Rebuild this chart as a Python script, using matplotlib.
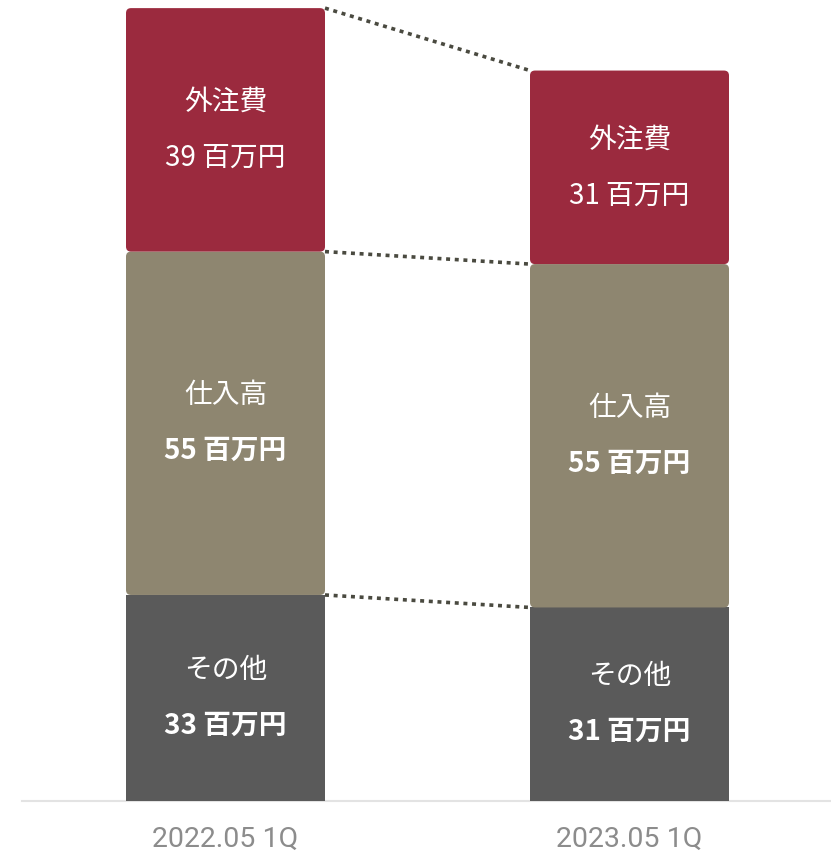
import matplotlib
matplotlib.use("Agg")
import matplotlib.pyplot as plt
from matplotlib.patches import FancyBboxPatch

plt.rcParams['font.family'] = ['Noto Sans CJK JP', 'DejaVu Sans']

periods = ["2022.05 1Q", "2023.05 1Q"]
segments = ["その他", "仕入高", "外注費"]
values = {
    "その他": [33, 31],
    "仕入高": [55, 55],
    "外注費": [39, 31],
}
unit = "百万円"

colors = {"その他": "#5a5a5a", "仕入高": "#8e8670", "外注費": "#9b2a3e"}
label_weight = {"その他": "bold", "仕入高": "bold", "外注費": "normal"}

W, H, DPI = 831, 855, 100
fig = plt.figure(figsize=(W / DPI, H / DPI), dpi=DPI)
base_px = 801
ax = fig.add_axes([0, 1 - base_px / H, 1, base_px / H])

px_per_x = 404.0
xs = [0, 1]
bar_w = 199 / px_per_x
ax.set_xlim(-225.5 / px_per_x, 1 + (W - 629.5) / px_per_x)
ax.set_ylim(0, 128.3)
ax.axis("off")

# size conversions for rounded corners
fig.canvas.draw()
x_unit_px = ax.transData.transform((1, 0))[0] - ax.transData.transform((0, 0))[0]
y_unit_px = ax.transData.transform((0, 1))[1] - ax.transData.transform((0, 0))[1]
aspect = x_unit_px / y_unit_px
radius_x = 5 / x_unit_px

bottoms = [0.0, 0.0]
tops = {}
for seg in segments:
    vals = values[seg]
    tops[seg] = []
    for i, x in enumerate(xs):
        b = bottoms[i]
        v = vals[i]
        if seg == segments[0]:
            ax.bar(x, v, bottom=b, width=bar_w, color=colors[seg], zorder=2)
        else:
            p = FancyBboxPatch((x - bar_w / 2, b), bar_w, v,
                               boxstyle=f"round,pad=0,rounding_size={radius_x}",
                               mutation_aspect=aspect,
                               facecolor=colors[seg], edgecolor="none", zorder=3)
            ax.add_patch(p)
        mid = b + v / 2
        off = 28 / y_unit_px
        ax.text(x, mid + off, seg, ha="center", va="center", color="white",
                fontsize=20, zorder=5)
        ax.text(x, mid - off, f"{v} {unit}", ha="center", va="center", color="white",
                fontsize=20, fontweight=label_weight[seg], zorder=5)
        bottoms[i] = b + v
        tops[seg].append(b + v)

# dotted connectors between the segment boundaries
for seg in segments:
    y0, y1 = tops[seg]
    ax.plot([xs[0] + bar_w / 2, xs[1] - bar_w / 2], [y0, y1],
            color="#4a4a40", lw=2.6, linestyle=(0, (1.1, 1.3)),
            solid_capstyle="butt", zorder=4)

# baseline
ax.plot([(22 - 225.5) / px_per_x, 1 + (W - 629.5) / px_per_x], [0, 0],
        color="#e3e3e3", lw=1.5, zorder=1, clip_on=False)

for x, lab in zip(xs, periods):
    ax.text(x, -38 / y_unit_px, lab, ha="center", va="center",
            color="#8c8c8c", fontsize=20.5, family=["Roboto", "DejaVu Sans"])

fig.savefig("out.png", dpi=DPI)
